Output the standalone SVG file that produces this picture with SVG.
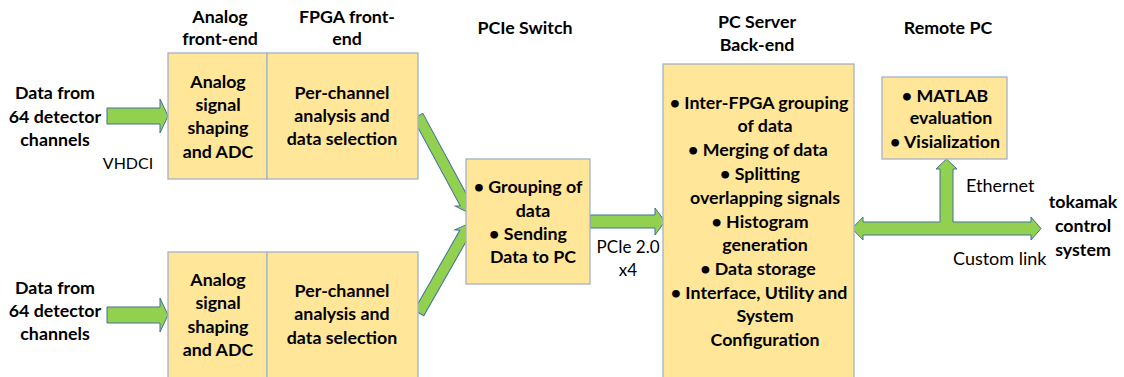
<svg xmlns="http://www.w3.org/2000/svg" width="1124" height="377" viewBox="0 0 1124 377">
<style>
.box{fill:#FFE699;stroke:#A3B3C8;stroke-width:1.3}
.arr{fill:#92D050;stroke:#41719C;stroke-width:1}
text{font-family:Lato,"Liberation Sans",sans-serif;fill:#000}
.b{font-weight:bold;font-size:17.8px;text-anchor:middle}
.r{font-size:18px}
.rc{font-size:17px;text-anchor:middle}
</style>
<rect width="1124" height="377" fill="#fff"/>
<g id="connectors">
<polygon class="arr" points="107,108 160,108 160,99 168,116 160,133 160,124 107,124"/>
<polygon class="arr" points="107,307 160,307 160,298 168,315 160,332 160,323 107,323"/>
<polygon class="arr" transform="translate(418,116) rotate(61.6)" points="0,-5.5 99,-5.5 97,-10 111,0 97,10 99,5.5 0,5.5"/>
<polygon class="arr" transform="translate(419,313) rotate(-60.3)" points="0,-5.5 92,-5.5 90,-10 104,0 90,10 92,5.5 0,5.5"/>
<polygon class="arr" points="590,215 655,215 655,208 665,221.5 655,235 655,228 590,228"/>
<polygon class="arr" points="852,228.5 863,217 863,222 940,222 940,169 936,169 946.5,159 957,169 953,169 953,222 1031,222 1031,217 1041,228.5 1031,240 1031,235 863,235 863,240"/>
</g>
<g id="labels">
<text class="b" x="55" y="99">Data from</text>
<text class="b" x="55" y="123">64 detector</text>
<text class="b" x="55" y="146">channels</text>
<text class="rc" x="128" y="169" style="font-size:16px">VHDCI</text>
<text class="b" x="55" y="294">Data from</text>
<text class="b" x="55" y="317">64 detector</text>
<text class="b" x="55" y="340">channels</text>
<text class="b" x="220" y="23">Analog</text>
<text class="b" x="220" y="45">front-end</text>
<text class="b" x="347" y="23">FPGA front-</text>
<text class="b" x="347" y="45">end</text>
<text class="b" x="525" y="34">PCIe Switch</text>
<text class="b" x="757" y="28">PC Server</text>
<text class="b" x="757" y="51">Back-end</text>
<text class="b" x="948" y="34">Remote PC</text>
<text class="rc" x="628" y="253">PCIe 2.0</text>
<text class="rc" x="628" y="276">x4</text>
<text class="r" x="966" y="192">Ethernet</text>
<text class="r" x="953" y="265">Custom link</text>
<text class="b" x="1083" y="208">tokamak</text>
<text class="b" x="1083" y="232">control</text>
<text class="b" x="1083" y="256">system</text>
</g>
<g id="analog-top">
<rect class="box" x="168" y="53" width="99" height="126"/>
<text class="b" x="218" y="88">Analog</text>
<text class="b" x="218" y="111">signal</text>
<text class="b" x="218" y="134">shaping</text>
<text class="b" x="218" y="158">and ADC</text>
</g>
<g id="fpga-top">
<rect class="box" x="267" y="53" width="151" height="126"/>
<text class="b" x="342" y="99">Per-channel</text>
<text class="b" x="342" y="122">analysis and</text>
<text class="b" x="342" y="145">data selection</text>
</g>
<g id="analog-bottom">
<rect class="box" x="168" y="252" width="99" height="132"/>
<text class="b" x="218" y="286">Analog</text>
<text class="b" x="218" y="309">signal</text>
<text class="b" x="218" y="333">shaping</text>
<text class="b" x="218" y="356">and ADC</text>
</g>
<g id="fpga-bottom">
<rect class="box" x="267" y="252" width="151" height="132"/>
<text class="b" x="342" y="297">Per-channel</text>
<text class="b" x="342" y="320">analysis and</text>
<text class="b" x="342" y="344">data selection</text>
</g>
<g id="pcie-switch">
<rect class="box" x="466" y="159" width="124" height="125"/>
<text class="b" x="528" y="193">• Grouping of</text>
<text class="b" x="533" y="217">data</text>
<text class="b" x="528" y="240">• Sending</text>
<text class="b" x="533" y="263">Data to PC</text>
</g>
<g id="pc-server">
<rect class="box" x="663" y="64" width="191" height="320"/>
<text class="b" x="759" y="109">•  Inter-FPGA grouping</text>
<text class="b" x="765" y="132">of data</text>
<text class="b" x="758" y="156">• Merging of data</text>
<text class="b" x="760" y="180">•  Splitting</text>
<text class="b" x="765" y="204">overlapping signals</text>
<text class="b" x="760" y="228">•  Histogram</text>
<text class="b" x="765" y="251">generation</text>
<text class="b" x="758" y="275">•  Data storage</text>
<text class="b" x="759" y="299">• Interface, Utility and</text>
<text class="b" x="765" y="322">System</text>
<text class="b" x="765" y="346">Configuration</text>
</g>
<g id="remote-pc">
<rect class="box" x="882" y="77" width="125" height="82"/>
<text class="b" x="945" y="102">• MATLAB</text>
<text class="b" x="951" y="124">evaluation</text>
<text class="b" x="945" y="148">• Visialization</text>
</g>
</svg>
